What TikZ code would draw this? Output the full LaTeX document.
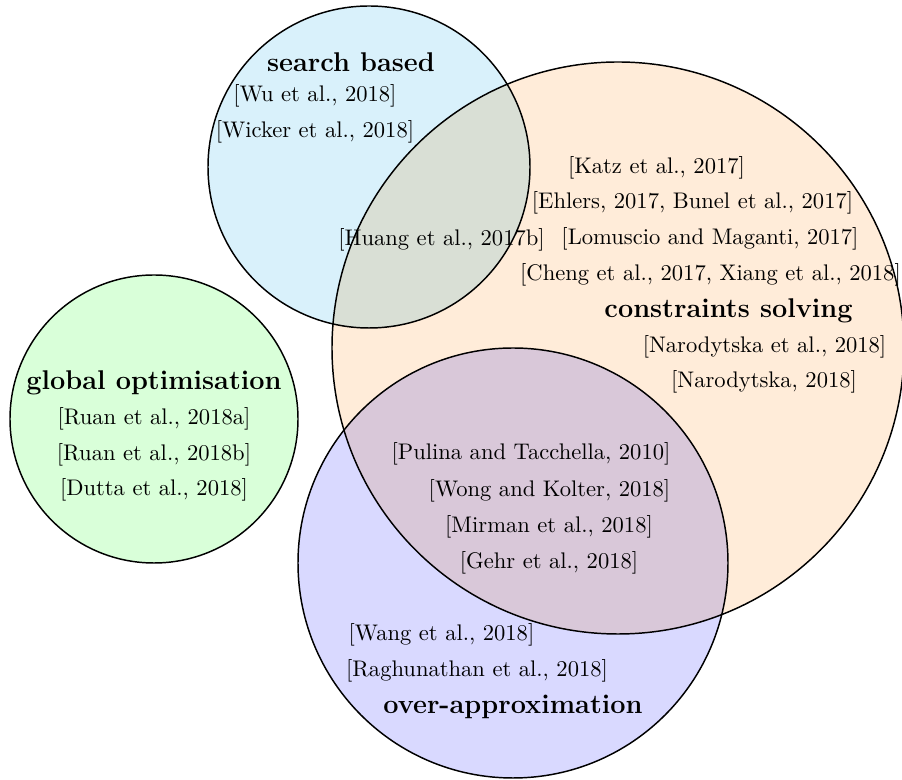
\documentclass[tikz,border=0pt]{standalone}
\usepackage{tikz}
\definecolor{cSearch}{RGB}{217,241,251}
\definecolor{cCons}{RGB}{255,236,217}
\definecolor{cGlob}{RGB}{217,255,217}
\definecolor{cOver}{RGB}{217,217,255}
\newcommand{\pxu}{0.443}
\tikzset{
  setcircle/.style={circle, draw=black, line width=0.65pt, inner sep=0pt, outer sep=0pt, blend mode=multiply},
  ref/.style={inner sep=0pt, font=\normalsize},
  ttl/.style={inner sep=0pt, font=\large\bfseries},
}
\begin{document}
\begin{tikzpicture}[x=\pxu pt, y=-\pxu pt]
\useasboundingbox (0,0) rectangle (902,780);
\fill[white] (0,0) rectangle (902,780);
% circles
\node[setcircle, fill=cGlob, minimum size=288*\pxu pt] (glob) at (154,419) {};
\node[setcircle, fill=cSearch, minimum size=322*\pxu pt] (search) at (369,167) {};
\node[setcircle, fill=cOver, minimum size=430*\pxu pt] (over) at (513,563) {};
\node[setcircle, fill=cCons, minimum size=572*\pxu pt] (cons) at (618,348) {};
% search based
\node[ttl] (tsearch) at (351,62) {search based};
\node[ref] (wu) at (315,96) {[Wu et al., 2018]};
\node[ref] (wicker) at (315,132) {[Wicker et al., 2018]};
\node[ref] (huang) at (441.5,240) {[Huang et al., 2017b]};
% constraints solving
\node[ref] (katz) at (656.5,168) {[Katz et al., 2017]};
\node[ref] (ehlers) at (692.5,203) {[Ehlers, 2017, Bunel et al., 2017]};
\node[ref] (lomuscio) at (710,239) {[Lomuscio and Maganti, 2017]};
\node[ref] (cheng) at (710.5,275) {[Cheng et al., 2017, Xiang et al., 2018]};
\node[ttl] (tcons) at (728.5,311) {constraints solving};
\node[ref] (naro1) at (764.5,347) {[Narodytska et al., 2018]};
\node[ref] (naro2) at (764,382) {[Narodytska, 2018]};
% global optimisation
\node[ttl] (tglob) at (154,383) {global optimisation};
\node[ref] (ruana) at (154,419) {[Ruan et al., 2018a]};
\node[ref] (ruanb) at (154,455) {[Ruan et al., 2018b]};
\node[ref] (dutta) at (154,490) {[Dutta et al., 2018]};
% over-approximation
\node[ref] (pulina) at (531,454) {[Pulina and Tacchella, 2010]};
\node[ref] (wong) at (549.5,491) {[Wong and Kolter, 2018]};
\node[ref] (mirman) at (549,527) {[Mirman et al., 2018]};
\node[ref] (gehr) at (549,563) {[Gehr et al., 2018]};
\node[ref] (wang) at (441.5,635) {[Wang et al., 2018]};
\node[ref] (ragh) at (477,671) {[Raghunathan et al., 2018]};
\node[ttl] (tover) at (513,707) {over-approximation};
\end{tikzpicture}
\end{document}
